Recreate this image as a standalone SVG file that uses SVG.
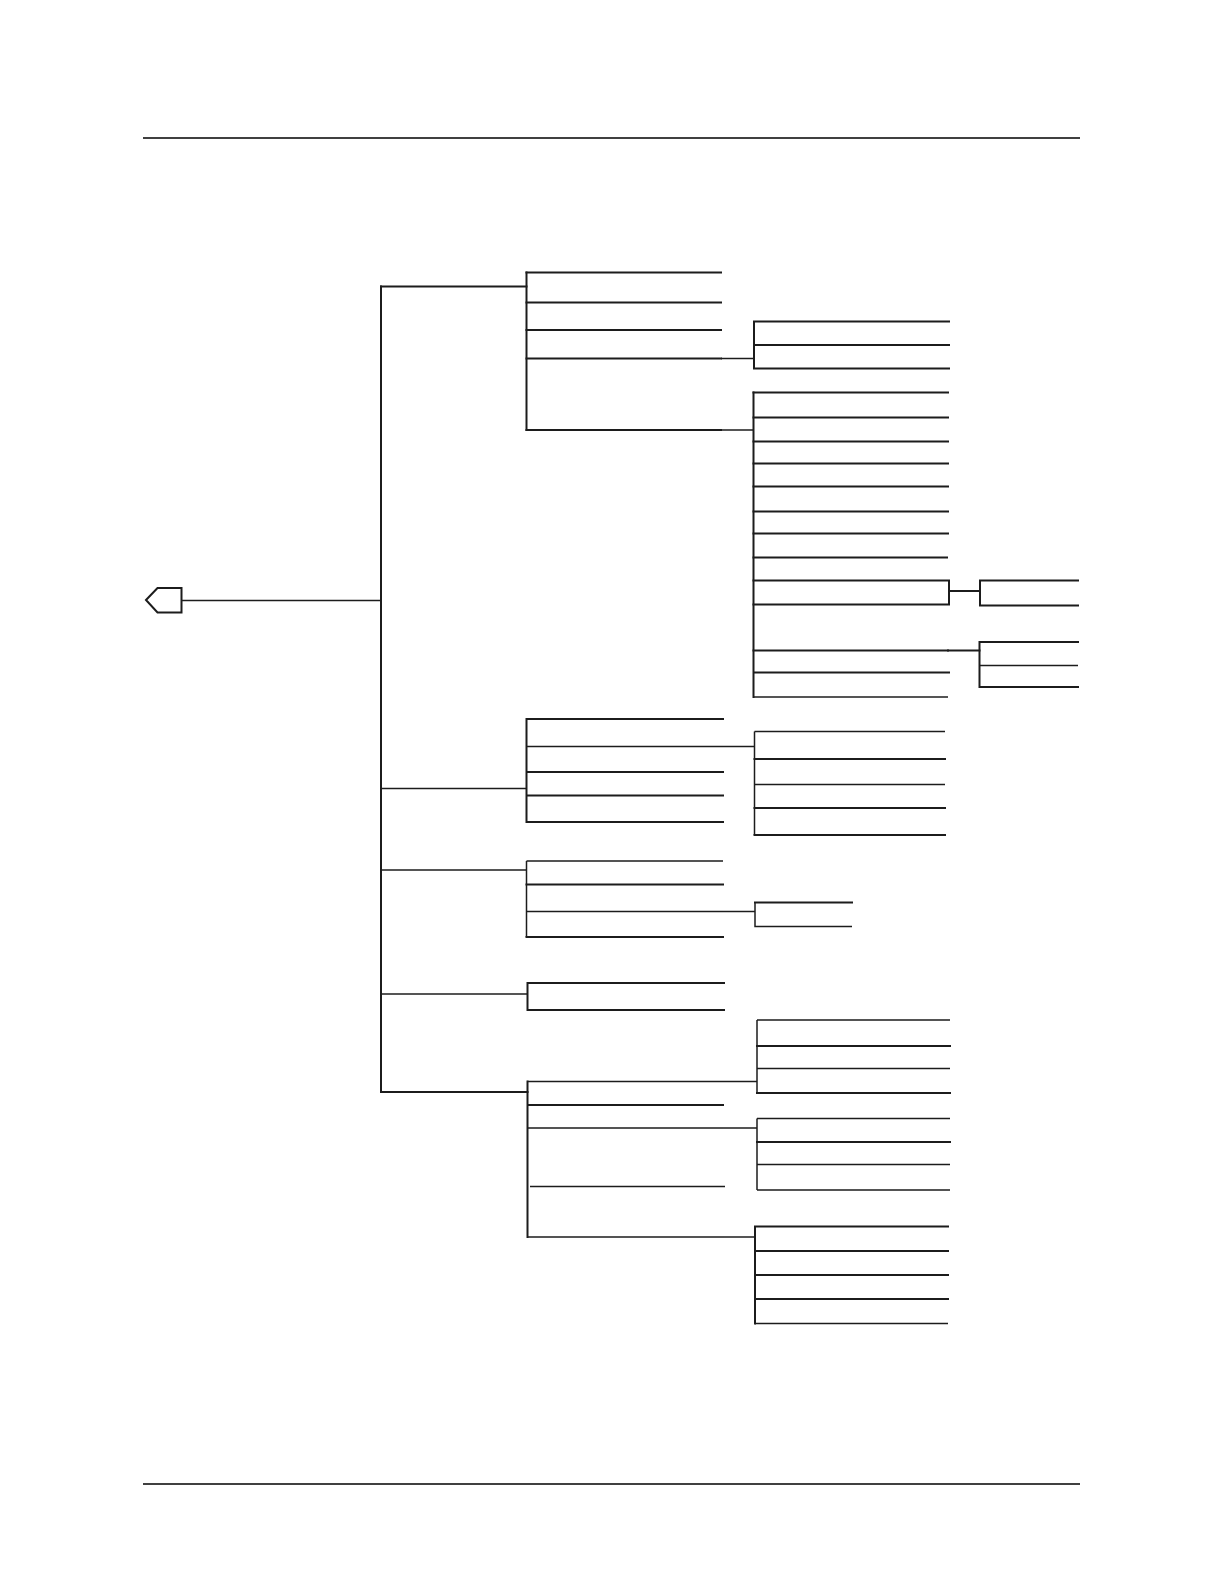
<svg xmlns="http://www.w3.org/2000/svg" width="1224" height="1584" viewBox="0 0 1224 1584">
<style>
.l{stroke:#1c1c1c;stroke-width:2;fill:none;stroke-linecap:square}
.t{stroke:#1c1c1c;stroke-width:1.5;fill:none}
.r{stroke:#000;stroke-width:1.3;fill:none}
</style>
<rect width="1224" height="1584" fill="#fff"/>
<g id="rules">
<line class="r" x1="143" y1="138" x2="1080" y2="138"/>
<line class="r" x1="143" y1="1484" x2="1080" y2="1484"/>
</g>
<g id="connectors">
<path class="t" d="M181.5 600.5H381"/>
<path class="l" d="M381 286.5V1092"/>
<path class="l" d="M381 286.5H526.5"/>
<path class="t" d="M381 788.5H526.5"/>
<path class="t" d="M381 870H526.5"/>
<path class="t" d="M381 994H527.5"/>
<path class="l" d="M381 1092H527.5"/>
<path class="t" d="M721 358.5H754"/>
<path class="t" d="M721 430H753.5"/>
<path class="l" d="M949 591H980"/>
<path class="l" d="M948 650.5H979.5"/>
<path class="t" d="M723 746.5H754.5"/>
<path class="t" d="M723 911.5H755"/>
<path class="t" d="M724 1081.5H757"/>
<path class="t" d="M723 1128H757"/>
<path class="t" d="M724 1237H755"/>
</g>
<g id="root">
<polygon class="l" points="146,600 157.5,588 181.5,588 181.5,612.5 157.5,612.5"/>
</g>
<g id="groupA">
<path class="l" d="M526.5 272.5V430"/>
<path class="l" d="M526.5 272.5H721M526.5 302.5H721M526.5 330H721M526.5 358.5H721M526.5 430H721"/>
</g>
<g id="groupA1">
<path class="l" d="M754 321.5V368.5M754 321.5H949M754 345H949M754 368.5H949"/>
</g>
<g id="groupA2">
<path class="l" d="M753.5 392.5V697"/>
<path class="l" d="M753.5 392.5H948M753.5 417.5H948M753.5 441.5H948M753.5 463.5H948M753.5 486.5H948M753.5 511.5H948M753.5 533.5H948M753.5 557.5H947"/>
<path class="l" d="M753.5 580.5H949V604.5H753.5"/>
<path class="l" d="M753.5 650.5H948M755 672.5H949"/>
<path class="t" d="M753.5 697H948"/>
</g>
<g id="groupA2a">
<path class="l" d="M980 580.5V605.5M980 580.5H1078M980 605.5H1078"/>
</g>
<g id="groupA2b">
<path class="l" d="M979.5 642V687M979.5 642H1078M979.5 687H1078"/>
<path class="t" d="M979.5 665.5H1078"/>
</g>
<g id="groupB">
<path class="l" d="M526.5 719V822M526.5 719H723M526.5 772H723M526.5 795.5H723M526.5 822H723"/>
<path class="t" d="M526.5 746.5H723"/>
</g>
<g id="groupB1">
<path class="t" d="M754.5 731.5V835M754.5 731.5H945M754.5 784.5H945"/>
<path class="l" d="M754.5 759H945M754.5 808H945M754.5 835H945"/>
</g>
<g id="groupC">
<path class="t" d="M526.5 861V937M526.5 861H723M526.5 911.5H723"/>
<path class="l" d="M526.5 884.5H723M526.5 937H723"/>
</g>
<g id="groupC1">
<path class="l" d="M755 902.5H852"/>
<path class="t" d="M755 902.5V926.5H852"/>
</g>
<g id="groupD">
<path class="l" d="M527.5 983V1010M527.5 983H724M527.5 1010H724"/>
</g>
<g id="groupE">
<path class="l" d="M527.5 1081.5V1237M527.5 1105H723"/>
<path class="t" d="M527.5 1081.5H724M527.5 1128H723M530 1186.5H725M527.5 1237H724"/>
</g>
<g id="groupE1">
<path class="t" d="M757 1020V1093M757 1020H950M757 1068.5H950"/>
<path class="l" d="M757 1046H950M757 1093H950"/>
</g>
<g id="groupE2">
<path class="t" d="M757 1118.5V1190M757 1118.5H950M757 1164.5H950M757 1190H950"/>
<path class="l" d="M757 1142H950"/>
</g>
<g id="groupE3">
<path class="l" d="M755 1226.5V1323.5M755 1226.5H948M755 1251H948M755 1275H948M755 1299H948"/>
<path class="t" d="M755 1323.5H948"/>
</g>
</svg>
